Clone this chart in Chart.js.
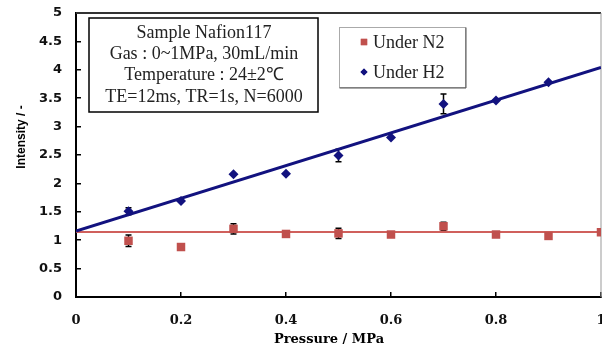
<!DOCTYPE html>
<html>
<head>
<meta charset="utf-8">
<script src="https://cdn.jsdelivr.net/npm/chart.js@4.4.1/dist/chart.umd.min.js"></script>
<style>
  html, body { margin: 0; padding: 0; background: #fff; overflow: hidden; }
  canvas { display: block; }
</style>
</head>
<body>
<canvas id="chart" width="607" height="351"></canvas>
<script>
// measured values (Intensity vs Pressure)
const n2Pressure = [0.1, 0.2, 0.3, 0.4, 0.5, 0.6, 0.7, 0.8, 0.9, 1.0];
const n2Values = [0.99, 0.88, 1.20, 1.11, 1.12, 1.10, 1.245, 1.10, 1.075, 1.14];
const n2Errors = [0.10, 0, 0.09, 0, 0.09, 0, 0.07, 0, 0, 0];

const h2Pressure = [0.1, 0.2, 0.3, 0.4, 0.5, 0.6, 0.7, 0.8, 0.9];
const h2Values = [1.51, 1.69, 2.16, 2.17, 2.49, 2.81, 3.40, 3.46, 3.78];
const h2Errors = [0.06, 0, 0, 0, 0.11, 0, 0.175, 0, 0];

// fitted lines
const fitPressure = [0, 1];
const h2Fit = [1.16, 4.04];
const n2Fit = [1.145, 1.145];

const xTicks = [0, 0.2, 0.4, 0.6, 0.8, 1];
const yTicks = [0, 0.5, 1, 1.5, 2, 2.5, 3, 3.5, 4, 4.5, 5];

const noteLines = ["Sample Nafion117", "Gas : 0~1MPa, 30mL/min", "Temperature : 24\u00B12\u2103", "TE=12ms, TR=1s, N=6000"];
const xTitle = "Pressure / MPa";
const yTitle = "Intensity / -";

const blue = '#12127f';
const red = '#c0504d';

const toPoints = (xs, ys) => xs.map((x, i) => ({ x: x, y: ys[i] }));

// error bars under the markers
const errorBars = {
    id: 'errorBars',
    beforeDatasetsDraw(chart) {
        const ctx = chart.ctx;
        const yScale = chart.scales.y;
        chart.data.datasets.forEach((ds, i) => {
            if (!ds.errors) return;
            const meta = chart.getDatasetMeta(i);
            ctx.save();
            ctx.strokeStyle = '#000';
            ctx.lineWidth = 1.5;
            meta.data.forEach((pt, j) => {
                const e = ds.errors[j];
                if (!e) return;
                const v = ds.data[j].y;
                const top = yScale.getPixelForValue(v + e);
                const bot = yScale.getPixelForValue(v - e);
                ctx.beginPath();
                ctx.moveTo(pt.x, top); ctx.lineTo(pt.x, bot);
                ctx.moveTo(pt.x - 3, top); ctx.lineTo(pt.x + 3, top);
                ctx.moveTo(pt.x - 3, bot); ctx.lineTo(pt.x + 3, bot);
                ctx.stroke();
            });
            ctx.restore();
        });
    }
};

// top / right frame, titles, note box and legend
const decorations = {
    id: 'decorations',
    beforeDatasetsDraw(chart) {
        const { ctx, chartArea: a } = chart;
        ctx.save();
        ctx.strokeStyle = '#333';
        ctx.lineWidth = 2;
        ctx.beginPath();
        ctx.moveTo(a.left, a.top); ctx.lineTo(a.right, a.top);
        ctx.stroke();
        ctx.strokeStyle = '#999';
        ctx.lineWidth = 1;
        ctx.beginPath();
        ctx.moveTo(a.right, a.top); ctx.lineTo(a.right, a.bottom);
        ctx.stroke();
        ctx.restore();
    },
    afterDraw(chart) {
        const ctx = chart.ctx;
        ctx.save();

        // axis titles
        ctx.fillStyle = '#000';
        ctx.textAlign = 'center';
        ctx.textBaseline = 'middle';
        ctx.font = 'bold 13px "DejaVu Serif"';
        ctx.fillText(xTitle, 329, 340);
        ctx.save();
        ctx.translate(22, 137);
        ctx.rotate(-Math.PI / 2);
        ctx.font = 'bold 12px "Liberation Sans"';
        ctx.fillText(yTitle, 0, 0);
        ctx.restore();

        // note box
        ctx.fillStyle = '#fff';
        ctx.fillRect(89, 18, 229, 94);
        ctx.strokeStyle = '#000';
        ctx.lineWidth = 1.5;
        ctx.strokeRect(89, 18, 229, 94);
        ctx.fillStyle = '#222';
        ctx.font = '18px "Liberation Serif"';
        noteLines.forEach((t, i) => ctx.fillText(t, 204, 33 + i * 21.3));

        // legend box
        ctx.fillStyle = '#fff';
        ctx.fillRect(339, 27, 127, 61);
        ctx.lineWidth = 1;
        ctx.strokeStyle = '#aaa';
        ctx.strokeRect(339.5, 27.5, 126, 60);
        ctx.strokeStyle = '#555';
        ctx.beginPath();
        ctx.moveTo(339.5, 88); ctx.lineTo(466, 88); ctx.lineTo(466, 27.5);
        ctx.stroke();

        const items = chart.data.datasets.filter(ds => ds.inLegend);
        ctx.textAlign = 'left';
        ctx.font = '18px "Liberation Serif"';
        items.forEach((ds, i) => {
            const y = 42 + i * 30;
            ctx.fillStyle = ds.backgroundColor;
            Chart.helpers.drawPoint(ctx, { pointStyle: ds.pointStyle, radius: ds.pointStyle === 'rect' ? 4.5 : 3.5, rotation: 0, borderWidth: 0 }, 364, y);
            ctx.fill();
            ctx.fillStyle = '#222';
            ctx.fillText(ds.label, 373, y + 1);
        });
        ctx.restore();
    }
};

const data = {
    datasets: [
        {
            label: 'Under N2',
            inLegend: true,
            data: toPoints(n2Pressure, n2Values),
            errors: n2Errors,
            pointStyle: 'rect',
            pointRadius: 6,
            backgroundColor: red,
            borderColor: red,
            borderWidth: 0,
            showLine: false,
            order: 1
        },
        {
            label: 'Under H2',
            inLegend: true,
            data: toPoints(h2Pressure, h2Values),
            errors: h2Errors,
            pointStyle: 'rectRot',
            pointRadius: 5,
            backgroundColor: blue,
            borderColor: blue,
            borderWidth: 0,
            showLine: false,
            order: 1
        },
        {
            type: 'line',
            label: 'H2 fit',
            data: toPoints(fitPressure, h2Fit),
            borderColor: blue,
            borderWidth: 3,
            pointRadius: 0,
            order: 2
        },
        {
            type: 'line',
            label: 'N2 fit',
            data: toPoints(fitPressure, n2Fit),
            borderColor: '#d0605c',
            borderWidth: 2,
            pointRadius: 0,
            order: 3
        }
    ]
};

const config = {
    type: 'scatter',
    data: data,
    options: {
        responsive: false,
        animation: false,
        layout: { padding: { top: 13, right: 1, bottom: 0, left: 0 } },
        plugins: {
            legend: { display: false },
            tooltip: { enabled: false }
        },
        scales: {
            x: {
                type: 'linear',
                min: 0,
                max: 1,
                afterBuildTicks: s => { s.ticks = xTicks.map(v => ({ value: v })); },
                afterFit: s => { s.height = 54; s.paddingLeft = 0; s.paddingRight = 0; },
                grid: { drawOnChartArea: false, drawTicks: true, tickLength: -5, color: '#000', lineWidth: 1.5 },
                border: { color: '#000', width: 2 },
                ticks: {
                    padding: 21,
                    color: '#111',
                    callback: v => String(v),
                    font: { family: 'DejaVu Serif', weight: 'bold', size: 13 }
                }
            },
            y: {
                type: 'linear',
                min: 0,
                max: 5,
                afterBuildTicks: s => { s.ticks = yTicks.map(v => ({ value: v })); },
                afterFit: s => { s.width = 76; s.paddingTop = 0; s.paddingBottom = 0; },
                grid: { drawOnChartArea: false, drawTicks: true, tickLength: -5, color: '#000', lineWidth: 1.5 },
                border: { color: '#000', width: 2 },
                ticks: {
                    padding: 19,
                    color: '#111',
                    callback: v => String(v),
                    font: { family: 'DejaVu Sans', weight: 'bold', size: 13 }
                }
            }
        }
    },
    plugins: [errorBars, decorations]
};

const chart = new Chart(document.getElementById('chart'), config);
</script>
</body>
</html>
